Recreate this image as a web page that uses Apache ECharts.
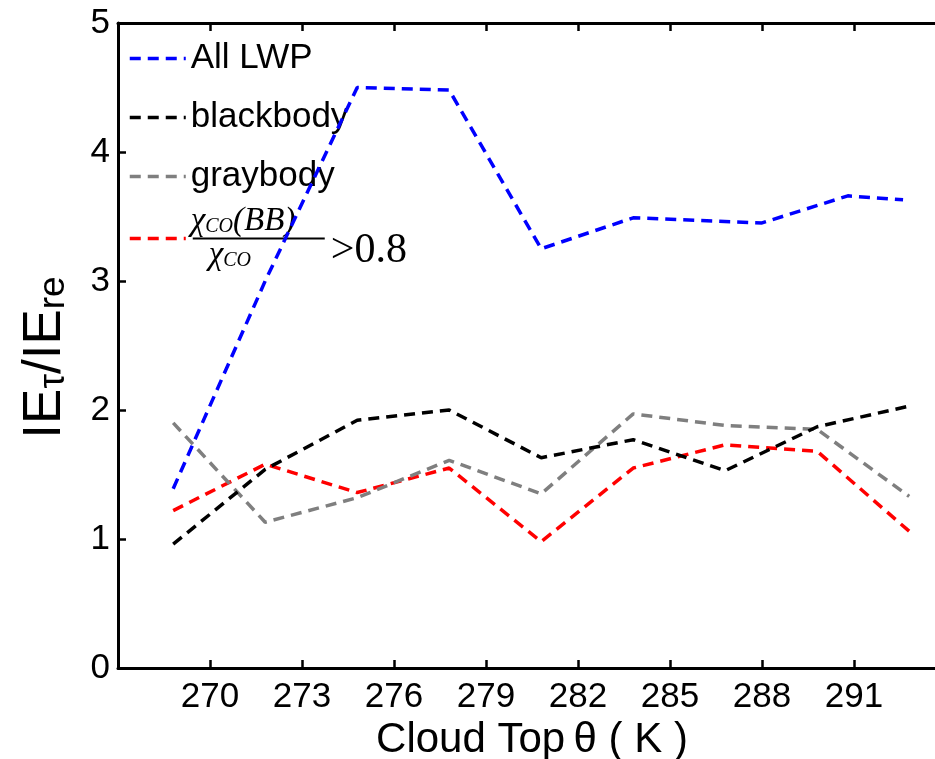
<!DOCTYPE html>
<html>
<head>
<meta charset="utf-8">
<script src="https://cdn.jsdelivr.net/npm/echarts@6/dist/echarts.min.js"></script>
<style>
html,body{margin:0;padding:0;background:#fff;}
#chart{width:935px;height:759px;}
</style>
</head>
<body>
<div id="chart"></div>
<script>
// ---- data ----
const xValues = [268.8, 271.8, 274.8, 277.8, 280.8, 283.8, 286.8, 289.8, 292.8];
const allLwpX = [268.8, 271.8, 274.8, 277.8, 280.8, 283.8, 288.0, 290.8, 292.6];
const allLwp = [1.39, 3.00, 4.50, 4.48, 3.25, 3.49, 3.45, 3.66, 3.63];
const blackbody = [0.96, 1.54, 1.92, 2.00, 1.63, 1.77, 1.53, 1.87, 2.03];
const graybody = [1.90, 1.13, 1.32, 1.61, 1.35, 1.97, 1.88, 1.85, 1.33];
const ratioGt08 = [1.22, 1.58, 1.36, 1.55, 0.98, 1.55, 1.73, 1.68, 1.06];
const seriesNames = ['All LWP', 'blackbody', 'graybody', 'ratio'];
const xTicks = [270, 273, 276, 279, 282, 285, 288, 291];
const yTicks = [0, 1, 2, 3, 4, 5];

const pairs = (xs, ys) => xs.map((x, i) => [x, ys[i]]);

const chart = echarts.init(document.getElementById('chart'), null, {renderer: 'canvas'});
const FONT = 'Liberation Sans';
const SERIF = 'Liberation Serif';

function lineSeries(name, xs, ys, color, z) {
  return {
    name: name, type: 'line', data: pairs(xs, ys),
    symbol: 'none', showSymbol: false, z: z,
    lineStyle: {color: color, width: 3.5, type: [11, 7]},
    itemStyle: {color: color},
    animation: false
  };
}

const legendCommon = {
  orient: 'vertical', left: 128, padding: 0,
  itemWidth: 56, itemHeight: 14,
  selectedMode: false,
  itemStyle: {opacity: 0, borderWidth: 0},
  lineStyle: {width: 3.5}
};

const option = {
  animation: false,
  backgroundColor: '#ffffff',
  grid: {left: 118, top: 23, right: -11, bottom: 91, containLabel: false, outerBoundsMode: 'none'},
  legend: [
    Object.assign({}, legendCommon, {
      data: seriesNames.slice(0, 3),
      top: 41, itemGap: 24,
      textStyle: {fontFamily: FONT, fontSize: 35, color: '#000', lineHeight: 30}
    }),
    Object.assign({}, legendCommon, {
      data: [seriesNames[3]],
      top: 205,
      formatter: function () {
        return '{chi|\u03c7}{sub|CO}{chi|(BB)}\n{sp|}{bar|}{gt|>0.8}\n{sp2|}{chi|\u03c7}{sub|CO}';
      },
      textStyle: {
        fontFamily: SERIF, color: '#000',
        rich: {
          chi: {fontFamily: SERIF, fontStyle: 'italic', fontSize: 33, lineHeight: 17, color: '#000'},
          sub: {fontFamily: SERIF, fontStyle: 'italic', fontSize: 20, lineHeight: 17, verticalAlign: 'top', padding: [4, 0, 0, 0], color: '#000'},
          sp: {width: 2, height: 2, lineHeight: 17},
          bar: {width: 132, height: 2, lineHeight: 17, backgroundColor: '#000'},
          gt: {fontFamily: SERIF, fontSize: 42, lineHeight: 17, verticalAlign: 'top', color: '#000', padding: [0, 0, 0, 6]},
          sp2: {width: 18, height: 2, lineHeight: 17}
        }
      }
    })
  ],
  xAxis: [
    {
      type: 'value', min: 267, max: 294, interval: 3,
      name: 'Cloud Top\u2009\u03b8 ( K )', nameLocation: 'middle', nameGap: 47,
      nameTextStyle: {fontFamily: FONT, fontSize: 42, color: '#000'},
      axisLine: {show: true, onZero: false, lineStyle: {color: '#000', width: 3}},
      axisTick: {show: true, inside: true, length: 8, lineStyle: {color: '#000', width: 2.5}},
      axisLabel: {
        show: true, margin: 12, fontFamily: FONT, fontSize: 35, color: '#000',
        showMinLabel: false, showMaxLabel: false,
        formatter: v => (xTicks.indexOf(v) >= 0 ? String(v) : '')
      },
      splitLine: {show: false}
    },
    {
      type: 'value', min: 267, max: 294, interval: 3, position: 'top',
      axisLine: {show: true, onZero: false, lineStyle: {color: '#000', width: 3}},
      axisTick: {show: true, inside: true, length: 8, lineStyle: {color: '#000', width: 2.5}},
      axisLabel: {show: false},
      splitLine: {show: false}
    }
  ],
  yAxis: {
    type: 'value', min: 0, max: 5, interval: 1,
    name: '{n|IE}{s|\u03c4}{n|/IE}{e|re}', nameLocation: 'middle', nameGap: 46,
    nameTextStyle: {
      fontFamily: FONT, color: '#000',
      rich: {
        n: {fontFamily: FONT, fontSize: 53, lineHeight: 54, color: '#000'},
        s: {fontFamily: FONT, fontSize: 37, lineHeight: 28, verticalAlign: 'bottom', color: '#000'},
        e: {fontFamily: FONT, fontSize: 37, lineHeight: 28, verticalAlign: 'bottom', color: '#000', padding: [0, 24, 0, 0]}
      }
    },
    axisLine: {show: true, onZero: false, lineStyle: {color: '#000', width: 3}},
    axisTick: {show: true, inside: true, length: 8, lineStyle: {color: '#000', width: 2.5}},
    axisLabel: {
      margin: 8, fontFamily: FONT, fontSize: 35, color: '#000',
      formatter: v => (yTicks.indexOf(v) >= 0 ? String(v) : '')
    },
    splitLine: {show: false}
  },
  series: [
    lineSeries(seriesNames[0], allLwpX, allLwp, '#0000ff', 4),
    lineSeries(seriesNames[1], xValues, blackbody, '#000000', 3),
    lineSeries(seriesNames[2], xValues, graybody, '#7f7f7f', 2),
    lineSeries(seriesNames[3], xValues, ratioGt08, '#ff0000', 1)
  ]
};
chart.setOption(option);
</script>
</body>
</html>
